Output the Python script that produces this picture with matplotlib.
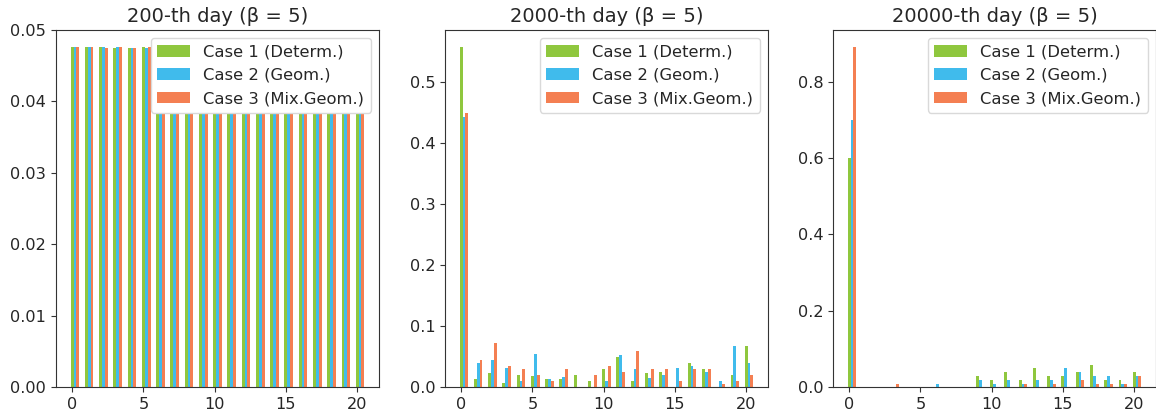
import numpy as np
import matplotlib
matplotlib.use("Agg")
import matplotlib.pyplot as plt

plt.rcParams['font.family'] = ['DejaVu Sans']
plt.rcParams['font.size'] = 11.6
plt.rcParams['axes.edgecolor'] = '0.2'
plt.rcParams['text.color'] = '0.15'
plt.rcParams['xtick.color'] = '0.2'
plt.rcParams['ytick.color'] = '0.2'
plt.rcParams['xtick.labelcolor'] = '0.15'
plt.rcParams['ytick.labelcolor'] = '0.15'

states = list(range(21))
labels = ["Case 1 (Determ.)", "Case 2 (Geom.)", "Case 3 (Mix.Geom.)"]
colors = ["#8fc73e", "#40bbec", "#f47f52"]
titles = ["200-th day (β = 5)", "2000-th day (β = 5)", "20000-th day (β = 5)"]

# 200-th day
d200_case1 = [0.0476, 0.0476, 0.0476, 0.0475, 0.0475, 0.0476, 0.0476, 0.0476, 0.0476, 0.0476, 0.0476,
              0.0476, 0.0476, 0.0476, 0.0476, 0.0476, 0.0476, 0.0476, 0.0476, 0.0476, 0.0476]
d200_case2 = [0.0476, 0.0476, 0.0476, 0.0476, 0.0475, 0.0475, 0.0476, 0.0476, 0.0476, 0.0476, 0.0476,
              0.0476, 0.0476, 0.0476, 0.0476, 0.0476, 0.0476, 0.0476, 0.0476, 0.0476, 0.0476]
d200_case3 = [0.0476, 0.0476, 0.0475, 0.0476, 0.0475, 0.0476, 0.0476, 0.0476, 0.0476, 0.0476, 0.0476,
              0.0476, 0.0476, 0.0476, 0.0476, 0.0476, 0.0476, 0.0476, 0.0476, 0.0476, 0.0476]

# 2000-th day
d2000_case1 = [0.558, 0.013, 0.023, 0.0065, 0.0196, 0.018, 0.013, 0.013, 0.0196, 0.0098, 0.029,
               0.049, 0.0098, 0.023, 0.024, 0.0, 0.039, 0.029, 0.0, 0.0196, 0.068]
d2000_case2 = [0.443, 0.039, 0.044, 0.031, 0.0098, 0.054, 0.013, 0.016, 0.0, 0.0, 0.0098,
               0.052, 0.029, 0.0147, 0.0196, 0.031, 0.034, 0.024, 0.0098, 0.068, 0.039]
d2000_case3 = [0.449, 0.044, 0.073, 0.034, 0.029, 0.0196, 0.0098, 0.029, 0.0, 0.0196, 0.034,
               0.024, 0.059, 0.029, 0.029, 0.0098, 0.029, 0.029, 0.0049, 0.0098, 0.0196]

# 20000-th day
d20000_case1 = [0.600, 0.0, 0.0, 0.0, 0.0, 0.0, 0.0, 0.0, 0.0, 0.029, 0.018,
                0.039, 0.018, 0.050, 0.029, 0.029, 0.039, 0.058, 0.018, 0.018, 0.039]
d20000_case2 = [0.700, 0.0, 0.0, 0.0, 0.0, 0.0, 0.008, 0.0, 0.0, 0.018, 0.008,
                0.018, 0.008, 0.018, 0.018, 0.050, 0.039, 0.029, 0.029, 0.008, 0.029]
d20000_case3 = [0.891, 0.0, 0.0, 0.008, 0.0, 0.0, 0.0, 0.0, 0.0, 0.0, 0.0,
                0.0, 0.008, 0.0, 0.008, 0.0, 0.018, 0.008, 0.008, 0.008, 0.029]

panels = [
    [d200_case1, d200_case2, d200_case3],
    [d2000_case1, d2000_case2, d2000_case3],
    [d20000_case1, d20000_case2, d20000_case3],
]

W, H = 1156, 418
fig = plt.figure(figsize=(W / 100, H / 100), dpi=100)
lefts = [56, 445, 833]
axw = 323
bottom_px, top_px = 387, 30
x = np.array(states)
width = 0.2
for i, (left, series, title) in enumerate(zip(lefts, panels, titles)):
    ax = fig.add_axes([left / W, (H - bottom_px) / H, axw / W, (bottom_px - top_px) / H])
    for k, (vals, lab, col) in enumerate(zip(series, labels, colors)):
        ax.bar(x + k * width, vals, width=width, color=col, label=lab)
    ax.set_title(title, fontsize=14)
    ax.set_xticks([0, 5, 10, 15, 20])
    if i == 0:
        ax.set_ylim(0, 0.05)
    leg = ax.legend(loc='upper right', framealpha=1.0, fontsize=11.8)
    leg.get_frame().set_edgecolor('0.85')

fig.savefig("out.png", dpi=100)
